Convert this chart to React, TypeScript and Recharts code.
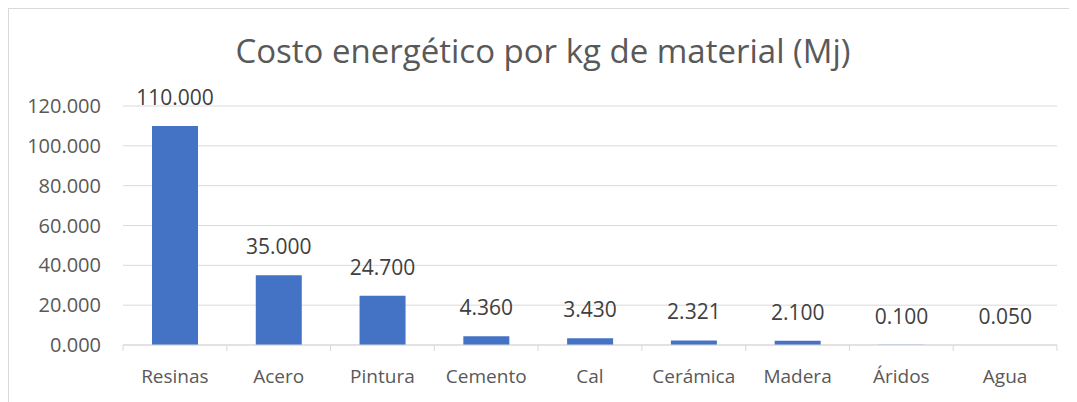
import { BarChart, Bar, XAxis, YAxis, CartesianGrid, LabelList } from 'recharts';

const categories = ['Resinas', 'Acero', 'Pintura', 'Cemento', 'Cal', 'Cerámica', 'Madera', 'Áridos', 'Agua'];
const energyValues = [110, 35, 24.7, 4.36, 3.43, 2.321, 2.1, 0.1, 0.05];
const yTicks = [0, 20, 40, 60, 80, 100, 120];

const chartData = categories.map((name, i) => ({ name, value: energyValues[i] }));

const FONT = '"Open Sans", Calibri, sans-serif';
const CHART_W = 1068;
const CHART_H = 393;
const XAXIS_H = 57;
const AXIS_Y = CHART_H - XAXIS_H;

// Excel draws tick marks between categories, not under them
function CategoryTick(props: any) {
  const { x, payload, index } = props;
  const half = payload.offset || 0;
  const isLast = index === categories.length - 1;
  return (
    <g>
      <line x1={x - half} x2={x - half} y1={AXIS_Y} y2={AXIS_Y + 6} stroke="#d9d9d9" />
      {isLast && <line x1={x + half} x2={x + half} y1={AXIS_Y} y2={AXIS_Y + 6} stroke="#d9d9d9" />}
      <text x={x} y={AXIS_Y + 31} textAnchor="middle" dominantBaseline="central" fontSize={19} fill="#595959" fontFamily={FONT}>
        {payload.value}
      </text>
    </g>
  );
}

export default function App() {
  return (
    <div style={{ position: 'relative', width: CHART_W, height: CHART_H, borderLeft: '1px solid #d9d9d9', borderTop: '1px solid #d9d9d9', fontFamily: FONT }}>
      <div style={{ position: 'absolute', left: 0, right: 0, top: 19, textAlign: 'center', fontSize: 33, color: '#595959', whiteSpace: 'nowrap' }}>
        Costo energético por kg de material (Mj)
      </div>
      <BarChart width={CHART_W} height={CHART_H} data={chartData} margin={{ top: 97, right: 20, left: 0, bottom: 0 }}>
        <CartesianGrid vertical={false} stroke="#d9d9d9" />
        <XAxis
          dataKey="name"
          height={XAXIS_H}
          axisLine={{ stroke: '#d9d9d9' }}
          tickLine={false}
          interval={0}
          tick={<CategoryTick />}
        />
        <YAxis
          width={114}
          domain={[0, 120]}
          ticks={yTicks}
          axisLine={false}
          tickLine={false}
          tickMargin={16}
          tick={{ fontSize: 20, fill: '#595959', fontFamily: FONT }}
          tickFormatter={(v: number) => v.toFixed(3)}
        />
        <Bar dataKey="value" fill="#4472c4" barSize={46} isAnimationActive={false}>
          <LabelList
            dataKey="value"
            position="top"
            offset={21}
            fontSize={21}
            fill="#404040"
            fontFamily={FONT}
            formatter={(v: any) => Number(v).toFixed(3)}
          />
        </Bar>
      </BarChart>
    </div>
  );
}
